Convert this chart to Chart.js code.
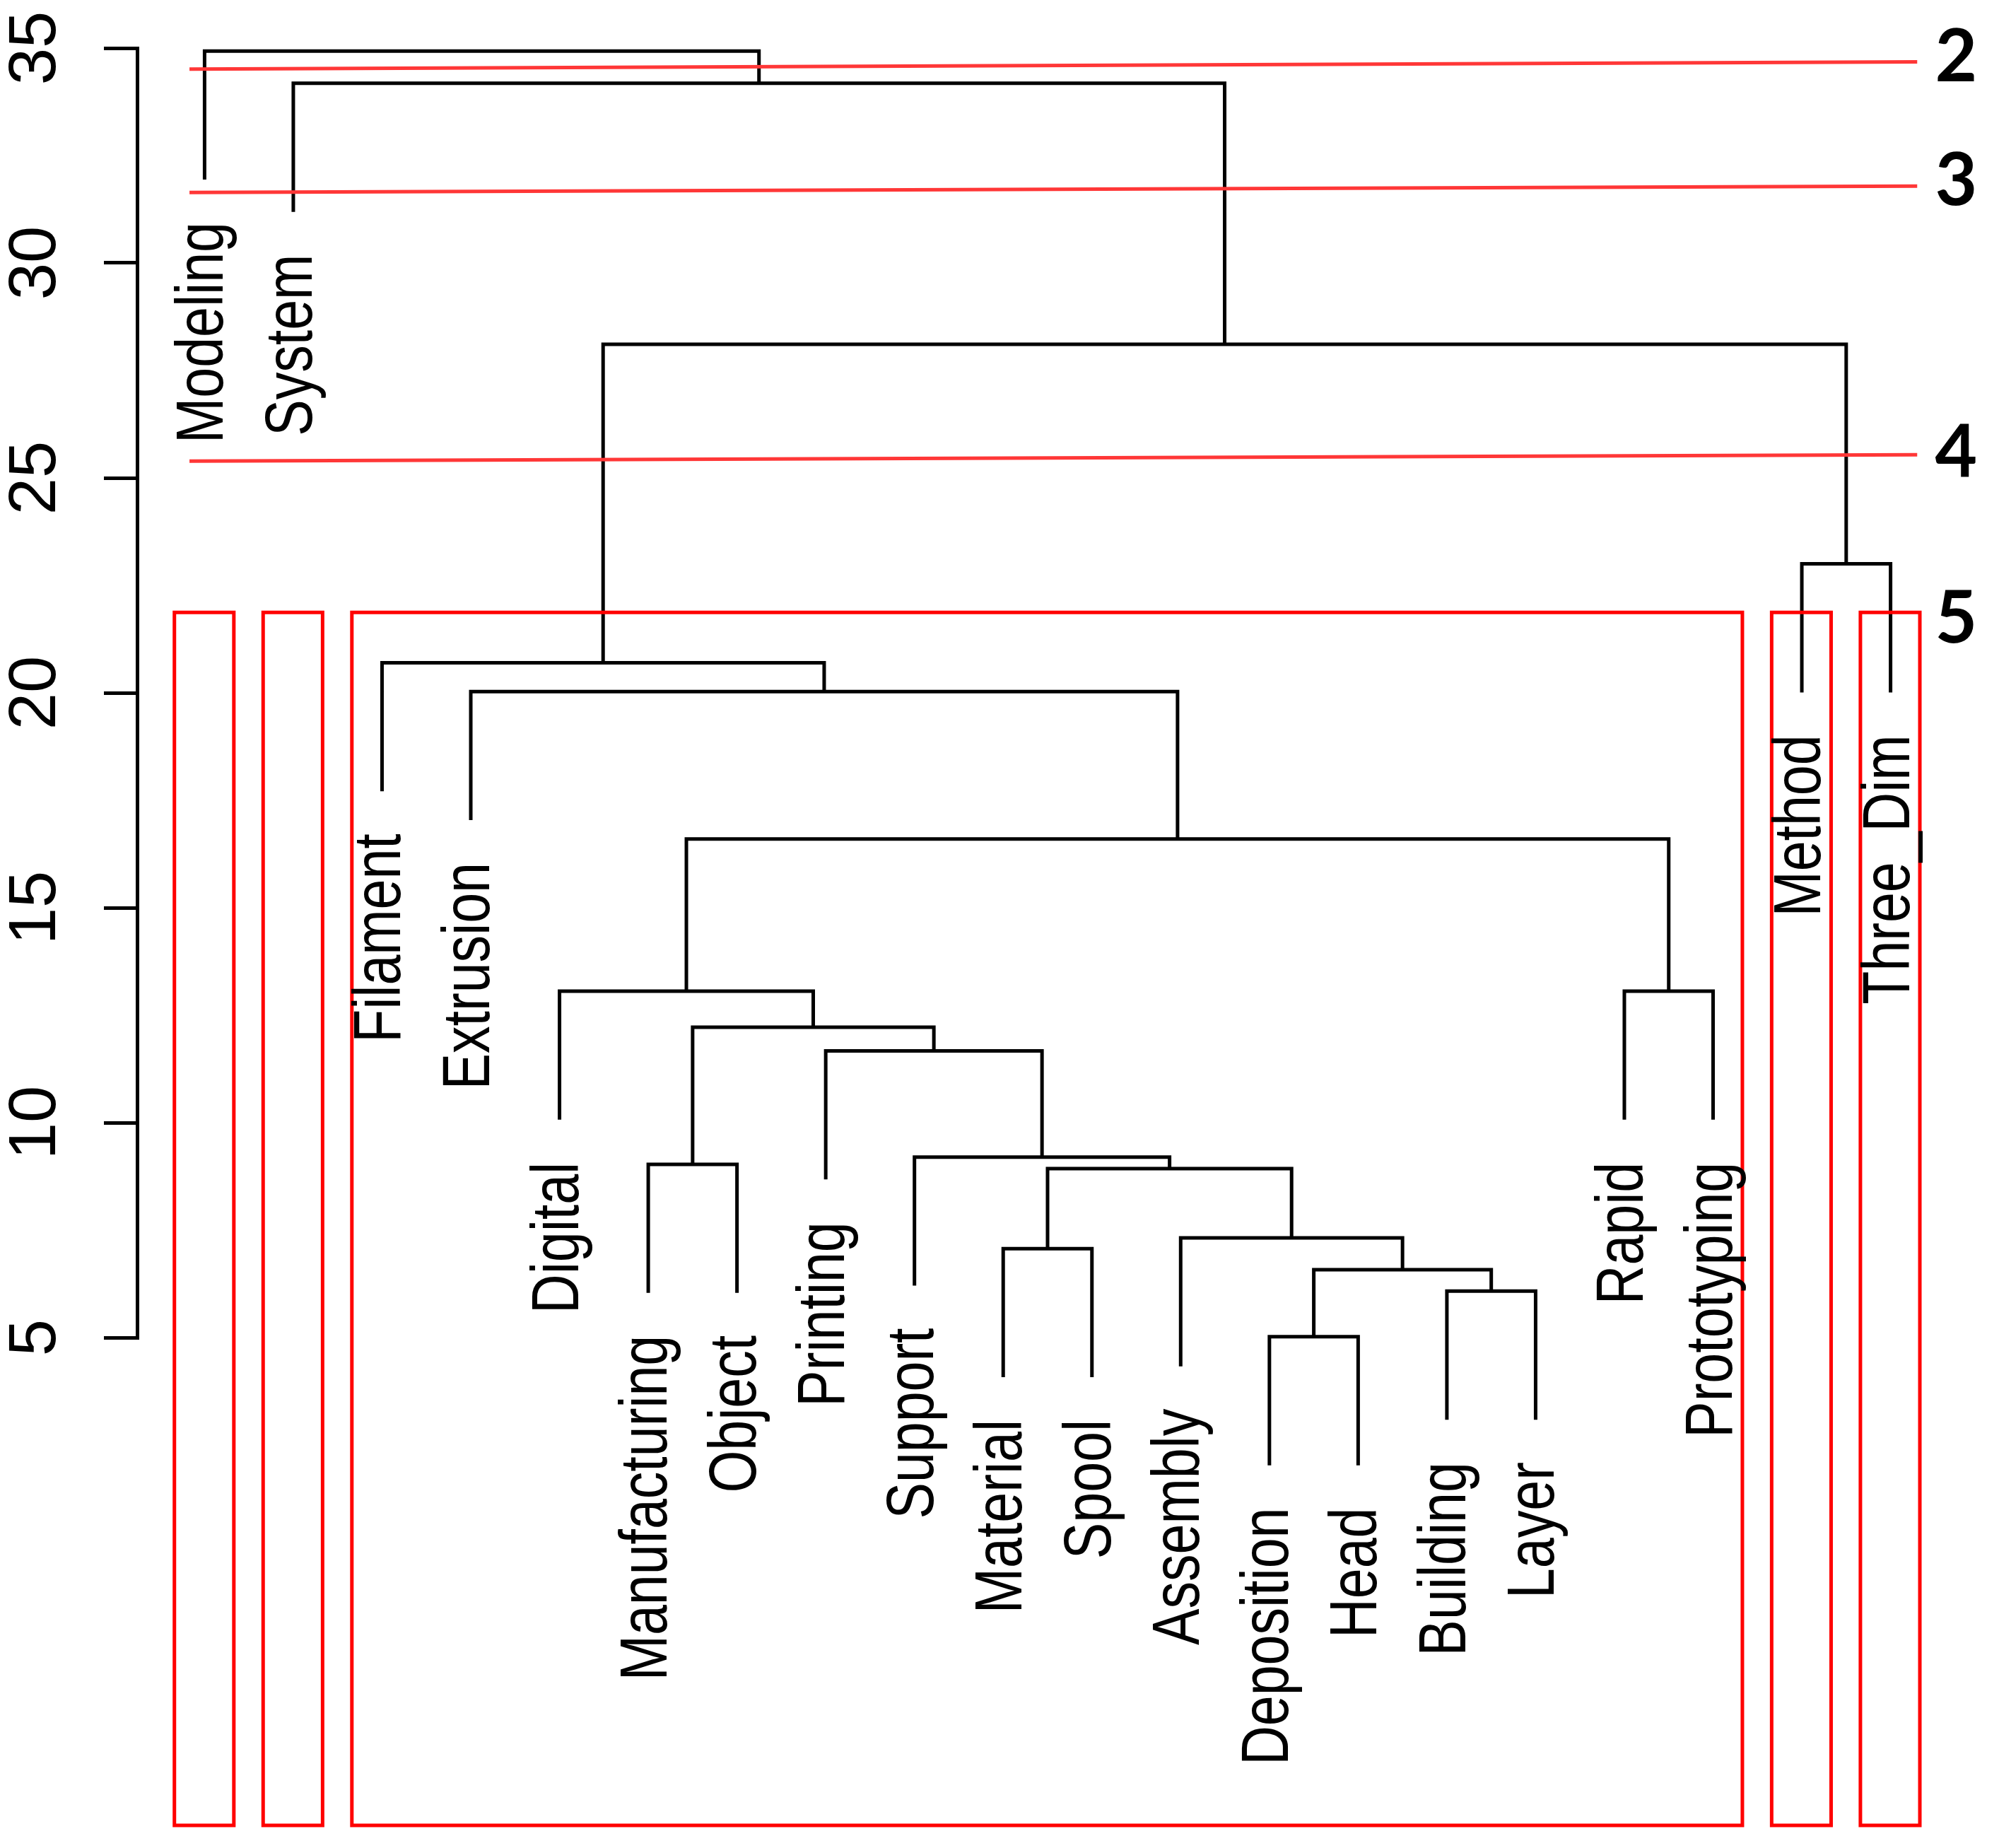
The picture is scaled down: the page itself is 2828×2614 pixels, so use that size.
<!DOCTYPE html>
<html>
<head>
<meta charset="utf-8">
<script src="https://cdn.jsdelivr.net/npm/chart.js@4.4.1/dist/chart.umd.min.js"></script>
<style>
html, body { margin: 0; padding: 0; background: #ffffff; }
canvas { display: block; }
</style>
</head>
<body>
<canvas id="c" width="2828" height="2614"></canvas>
<script>
// ---------------- data ----------------
// leaves, in the order they are drawn (left to right)
const leafLabels = ["Modeling", "System", "Filament", "Extrusion", "Digital",
  "Manufacturing", "Object", "Printing", "Support", "Material", "Spool",
  "Assembly", "Deposition", "Head", "Building", "Layer", "Rapid",
  "Prototyping", "Method", "Three_Dim"];
// hclust-style merge table: negative = leaf position, positive = earlier merge row
const mergeLeft  = [-13, -15, 1, -10, -12, 4, -6, -9, -8, 7, -5, -17, 11, -4, -3, -19, 15, -2, -1];
const mergeRight = [-14, -16, 2, -11, 3, 5, -7, 6, 8, 9, 10, -18, 12, 13, 14, -20, 16, 17, 18];
const mergeHeight = [5.02, 6.08, 6.58, 7.07, 7.32, 8.93, 9.03, 9.20, 11.67, 12.22,
  13.06, 13.06, 16.60, 20.03, 20.70, 23.00, 28.11, 34.18, 34.93];
const yTicks = [5, 10, 15, 20, 25, 30, 35];
// cut lines (k = 2, 3, 4) drawn across the tree
const cutLeftHeight = [34.51, 31.64, 25.39];
const cutRightHeight = [34.68, 31.79, 25.54];
const cutFromLeaf = 0.83;
const cutToLeaf = 20.30;
// number of clusters written at the right
const kLabels = ["2", "3", "4", "5"];
const kLabelHeights = [34.83, 31.95, 25.64, 21.77];
// k = 5 cluster rectangles (first / last leaf position)
const boxFirstLeaf = [1, 2, 3, 19, 20];
const boxLastLeaf  = [1, 2, 18, 19, 20];
const boxTop = 21.87;
const boxBottom = -6.35;

// ---------------- fonts ----------------
function fontAvailable(name) {
  const c = document.createElement('canvas').getContext('2d');
  const t = 'Manufacturing 0123456789';
  c.font = '72px monospace';
  const a = c.measureText(t).width;
  c.font = "72px '" + name + "', monospace";
  const b = c.measureText(t).width;
  return Math.abs(a - b) > 0.5;
}
const hasNarrow = fontAvailable('Liberation Sans Narrow');
const family = hasNarrow ? "'Liberation Sans Narrow', 'Liberation Sans', Arial, sans-serif"
                         : "'Liberation Sans', Arial, sans-serif";
const LABEL_SIZE = 94;
const TICK_SIZE = 94;
const squeeze = hasNarrow ? 1 : 0.82;

const mctx = document.createElement('canvas').getContext('2d');
mctx.font = TICK_SIZE + 'px ' + family;
const tickW = mctx.measureText('35').width;
const tickPad = 95 - tickW / 2;

// ---------------- build tree geometry ----------------
const nodeX = [];
const leafEnd = [];
const hang = 0.1 * (Math.max(...mergeHeight) - Math.min(...mergeHeight));
const lineStyle = {
  showLine: true, pointRadius: 0, borderColor: '#000000', borderWidth: 5,
  borderCapStyle: 'butt', borderJoinStyle: 'miter', tension: 0, clip: false, fill: false
};
const treeSets = [];
for (let k = 0; k < mergeHeight.length; k++) {
  const h = mergeHeight[k];
  const l = mergeLeft[k], r = mergeRight[k];
  const xl = l < 0 ? -l : nodeX[l - 1];
  const xr = r < 0 ? -r : nodeX[r - 1];
  const yl = l < 0 ? h - hang : mergeHeight[l - 1];
  const yr = r < 0 ? h - hang : mergeHeight[r - 1];
  if (l < 0) leafEnd[-l] = h - hang;
  if (r < 0) leafEnd[-r] = h - hang;
  nodeX[k] = (xl + xr) / 2;
  treeSets.push(Object.assign({
    data: [{x: xl, y: yl}, {x: xl, y: h}, {x: xr, y: h}, {x: xr, y: yr}]
  }, lineStyle));
}

const cutSets = cutLeftHeight.map((v, i) => Object.assign({}, lineStyle, {
  data: [{x: cutFromLeaf, y: v}, {x: cutToLeaf, y: cutRightHeight[i]}],
  borderColor: 'rgb(255,55,55)'
}));

const boxSets = boxFirstLeaf.map((f, i) => {
  const a = f - 0.34, b = boxLastLeaf[i] + 0.33;
  return Object.assign({}, lineStyle, {
    data: [{x: a, y: boxTop}, {x: b, y: boxTop}, {x: b, y: boxBottom},
           {x: a, y: boxBottom}, {x: a, y: boxTop}],
    borderColor: '#ff0000', borderCapStyle: 'square'
  });
});

// ---------------- text plugin ----------------
const textPlugin = {
  id: 'treeText',
  afterDatasetsDraw(chart) {
    const ctx = chart.ctx;
    const xs = chart.scales.x, ys = chart.scales.y;
    ctx.save();
    ctx.fillStyle = '#000000';
    ctx.font = LABEL_SIZE + 'px ' + family;
    ctx.textAlign = 'right';
    ctx.textBaseline = 'alphabetic';
    leafLabels.forEach((lab, i) => {
      const px = xs.getPixelForValue(i + 1) + 26;
      const py = ys.getPixelForValue(leafEnd[i + 1]) + 60;
      ctx.save();
      ctx.translate(px, py);
      ctx.rotate(-Math.PI / 2);
      ctx.scale(squeeze, 1);
      ctx.fillText(lab, 0, 0);
      ctx.restore();
    });
    ctx.font = 'bold 103px Lato, "Open Sans", sans-serif';
    ctx.textAlign = 'center';
    kLabels.forEach((t, i) => {
      const px = xs.getPixelForValue(20.74);
      const py = ys.getPixelForValue(kLabelHeights[i]) + 0.358 * 103;
      ctx.fillText(t, px, py);
    });
    ctx.restore();
  }
};

// ---------------- chart ----------------
new Chart(document.getElementById('c'), {
  type: 'scatter',
  data: { datasets: [...cutSets, ...boxSets, ...treeSets] },
  options: {
    responsive: false,
    animation: false,
    devicePixelRatio: 1,
    events: [],
    layout: { padding: { top: 68, bottom: 722, left: 0, right: 58 } },
    plugins: { legend: { display: false }, tooltip: { enabled: false } },
    scales: {
      x: { type: 'linear', min: 0.24, max: 20.76, display: false },
      y: {
        type: 'linear', min: 5, max: 35, position: 'left',
        afterBuildTicks(s) { s.ticks = yTicks.map(v => ({ value: v })); },
        afterFit(s) { s.width = 194; s.paddingTop = 0; s.paddingBottom = 0; },
        ticks: {
          autoSkip: false, minRotation: 90, maxRotation: 90, crossAlign: 'center',
          padding: tickPad, color: '#000000',
          font: { family: family, size: TICK_SIZE }
        },
        grid: { drawOnChartArea: false, drawTicks: true, tickLength: 47, color: '#000000', lineWidth: 5 },
        border: { display: true, color: '#000000', width: 5 }
      }
    }
  },
  plugins: [textPlugin]
});
</script>
</body>
</html>
